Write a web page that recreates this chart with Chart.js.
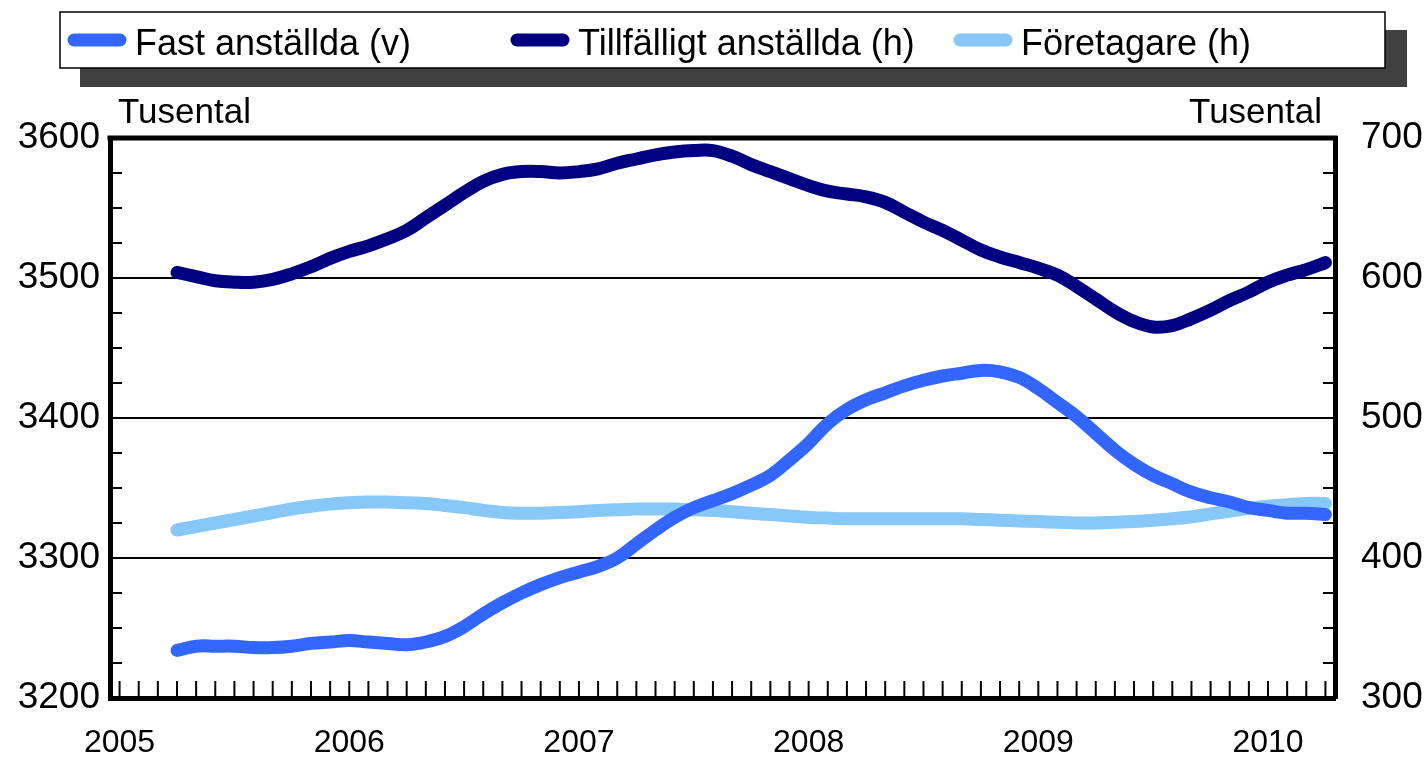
<!DOCTYPE html>
<html>
<head>
<meta charset="utf-8">
<script src="https://cdn.jsdelivr.net/npm/chart.js@4.4.0/dist/chart.umd.min.js"></script>
<style>
  html, body { margin: 0; padding: 0; background: #fff; }
  #wrap { width: 1426px; height: 758px; }
</style>
</head>
<body>
<div id="wrap"><canvas id="chart" width="1426" height="758"></canvas></div>
<script>
// monthly categories, Jan 2005 .. Apr 2010
const startYear = 2005;
const monthCount = 64;
const months = [];
for (let i = 0; i < monthCount; i++) {
    const y = startYear + Math.floor(i / 12);
    const m = (i % 12) + 1;
    months.push(y + '-' + (m < 10 ? '0' + m : m));
}

const seriesNames = ['Fast anställda (v)', 'Tillfälligt anställda (h)', 'Företagare (h)'];

// Tusental, left axis (data from Apr 2005)
const fastAnstallda = [null, null, null,
    3234, 3237, 3237, 3237, 3236, 3236, 3237, 3239, 3240, 3241,
    3240, 3239, 3238, 3240, 3244, 3251, 3260, 3268, 3275, 3281,
    3286, 3290, 3294, 3300, 3310, 3320, 3329, 3336, 3341, 3346,
    3352, 3359, 3370, 3382, 3396, 3406, 3413, 3418, 3423, 3427,
    3430, 3432, 3434, 3433, 3429, 3421, 3411, 3401, 3389, 3377,
    3367, 3359, 3353, 3347, 3343, 3340, 3336, 3334, 3332, 3332, 3331];

// Tusental, right axis
const tillfalligt = [null, null, null,
    604, 601, 598, 597, 597, 599, 603, 608, 614, 619,
    623, 628, 634, 643, 652, 661, 669, 674, 676, 676,
    675, 676, 678, 682, 685, 688, 690, 691, 691, 687,
    681, 676, 671, 666, 662, 660, 658, 654, 647, 640,
    634, 627, 620, 615, 611, 607, 602, 594, 585, 576,
    569, 565, 566, 571, 577, 584, 590, 597, 602, 606, 611];

const foretagare = [null, null, null,
    420, 422.5, 425, 427.5, 430, 432.5, 435, 437, 438.5, 439.5,
    440, 440, 439.5, 439, 437.5, 436, 434, 432.5, 432, 432,
    432.5, 433, 434, 434.5, 435, 435, 435, 434.5, 434, 433,
    432, 431, 430, 429, 428.5, 428, 428, 428, 428, 428,
    428, 428, 427.5, 427, 426.5, 426, 425.5, 425, 425, 425.5,
    426, 427, 428, 429.5, 431.5, 433.5, 435.5, 437, 438, 439, 439];

const leftRange = [3200, 3600];
const rightRange = [300, 700];
const colors = ['#3366ff', '#000080', '#88c8f8'];

const FONT = "'Liberation Sans', Arial, sans-serif";

// legend box with shadow + unit labels + frame + inner ticks
const decorations = {
    id: 'decorations',
    beforeDraw(chart) {
        const ctx = chart.ctx;
        ctx.save();
        ctx.fillStyle = '#404040';
        ctx.fillRect(80, 30, 1327, 57);
        ctx.fillStyle = '#fff';
        ctx.fillRect(60, 12, 1325, 56);
        ctx.strokeStyle = '#000';
        ctx.lineWidth = 1.5;
        ctx.strokeRect(60, 12, 1325, 56);

        const items = [[68, 126, 135], [511, 569, 578], [954, 1012, 1021]];
        ctx.lineCap = 'round';
        ctx.lineWidth = 13;
        ctx.font = '36px ' + FONT;
        ctx.textBaseline = 'alphabetic';
        items.forEach((it, i) => {
            ctx.strokeStyle = colors[i];
            ctx.beginPath();
            ctx.moveTo(it[0] + 6, 40);
            ctx.lineTo(it[1] - 6, 40);
            ctx.stroke();
            ctx.fillStyle = '#000';
            ctx.textAlign = 'left';
            ctx.fillText(seriesNames[i], it[2], 55);
        });

        ctx.font = '35px ' + FONT;
        ctx.textAlign = 'left';
        ctx.fillText('Tusental', 118, 123);
        ctx.textAlign = 'right';
        ctx.fillText('Tusental', 1322, 123);
        ctx.restore();
    },
    beforeDatasetsDraw(chart) {
        const {ctx, chartArea: a, scales} = chart;
        ctx.save();
        ctx.strokeStyle = '#000';
        ctx.lineWidth = 2;
        ctx.beginPath();
        months.forEach((m, i) => {
            const px = scales.x.getPixelForValue(i);
            ctx.moveTo(px, a.bottom);
            ctx.lineTo(px, a.bottom - 17);
        });
        for (let v = leftRange[0] + 25; v < leftRange[1]; v += 25) {
            if (v % 100 === 0) continue;
            const py = scales.y.getPixelForValue(v);
            ctx.moveTo(a.left, py);
            ctx.lineTo(a.left + 12, py);
        }
        for (let v = rightRange[0] + 25; v < rightRange[1]; v += 25) {
            if (v % 100 === 0) continue;
            const py = scales.y1.getPixelForValue(v);
            ctx.moveTo(a.right, py);
            ctx.lineTo(a.right - 12, py);
        }
        ctx.stroke();
        ctx.restore();
    },
    afterDraw(chart) {
        const {ctx, chartArea: a} = chart;
        ctx.save();
        ctx.strokeStyle = '#000';
        ctx.lineWidth = 5;
        ctx.beginPath();
        ctx.moveTo(a.left - 2.5, a.top);
        ctx.lineTo(a.right + 2.5, a.top);
        ctx.stroke();
        ctx.restore();
    }
};

const ctx = document.getElementById('chart').getContext('2d');
new Chart(ctx, {
    type: 'line',
    data: {
        labels: months,
        datasets: [
            { label: seriesNames[0], data: fastAnstallda, yAxisID: 'y', borderColor: colors[0] },
            { label: seriesNames[1], data: tillfalligt, yAxisID: 'y1', borderColor: colors[1] },
            { label: seriesNames[2], data: foretagare, yAxisID: 'y1', borderColor: colors[2] }
        ]
    },
    options: {
        responsive: false,
        animation: false,
        devicePixelRatio: 1,
        layout: { padding: { top: 138, left: 0, right: 0, bottom: 0 } },
        elements: {
            line: { borderWidth: 13, tension: 0.4, borderCapStyle: 'round', borderJoinStyle: 'round', fill: false },
            point: { radius: 0, hoverRadius: 0 }
        },
        datasets: { line: { clip: false, spanGaps: false } },
        plugins: { legend: { display: false }, tooltip: { enabled: false } },
        scales: {
            x: {
                type: 'category',
                offset: true,
                grid: { display: false, drawTicks: false },
                border: { display: true, color: '#000', width: 5 },
                ticks: {
                    autoSkip: false, maxRotation: 0, padding: 26,
                    color: '#000', font: { family: FONT, size: 32 },
                    callback: (v, i) => months[i].endsWith('-01') ? months[i].slice(0, 4) : ''
                },
                afterFit: s => { s.height = 60; }
            },
            y: {
                position: 'left',
                min: leftRange[0], max: leftRange[1],
                grid: {
                    drawTicks: false, lineWidth: 2,
                    color: c => (c.tick && c.tick.value % 100 === 0) ? '#000' : 'rgba(0,0,0,0)'
                },
                border: { display: true, color: '#000', width: 5 },
                ticks: {
                    stepSize: 25, padding: 10, color: '#000',
                    font: { family: FONT, size: 37 },
                    callback: v => v % 100 === 0 ? v : ''
                },
                afterFit: s => { s.width = 110; }
            },
            y1: {
                position: 'right',
                min: rightRange[0], max: rightRange[1],
                grid: { display: false, drawTicks: false },
                border: { display: true, color: '#000', width: 5 },
                ticks: {
                    stepSize: 25, padding: 26, color: '#000',
                    font: { family: FONT, size: 37 },
                    callback: v => v % 100 === 0 ? v : ''
                },
                afterFit: s => { s.width = 91; }
            }
        }
    },
    plugins: [decorations]
});
</script>
</body>
</html>
